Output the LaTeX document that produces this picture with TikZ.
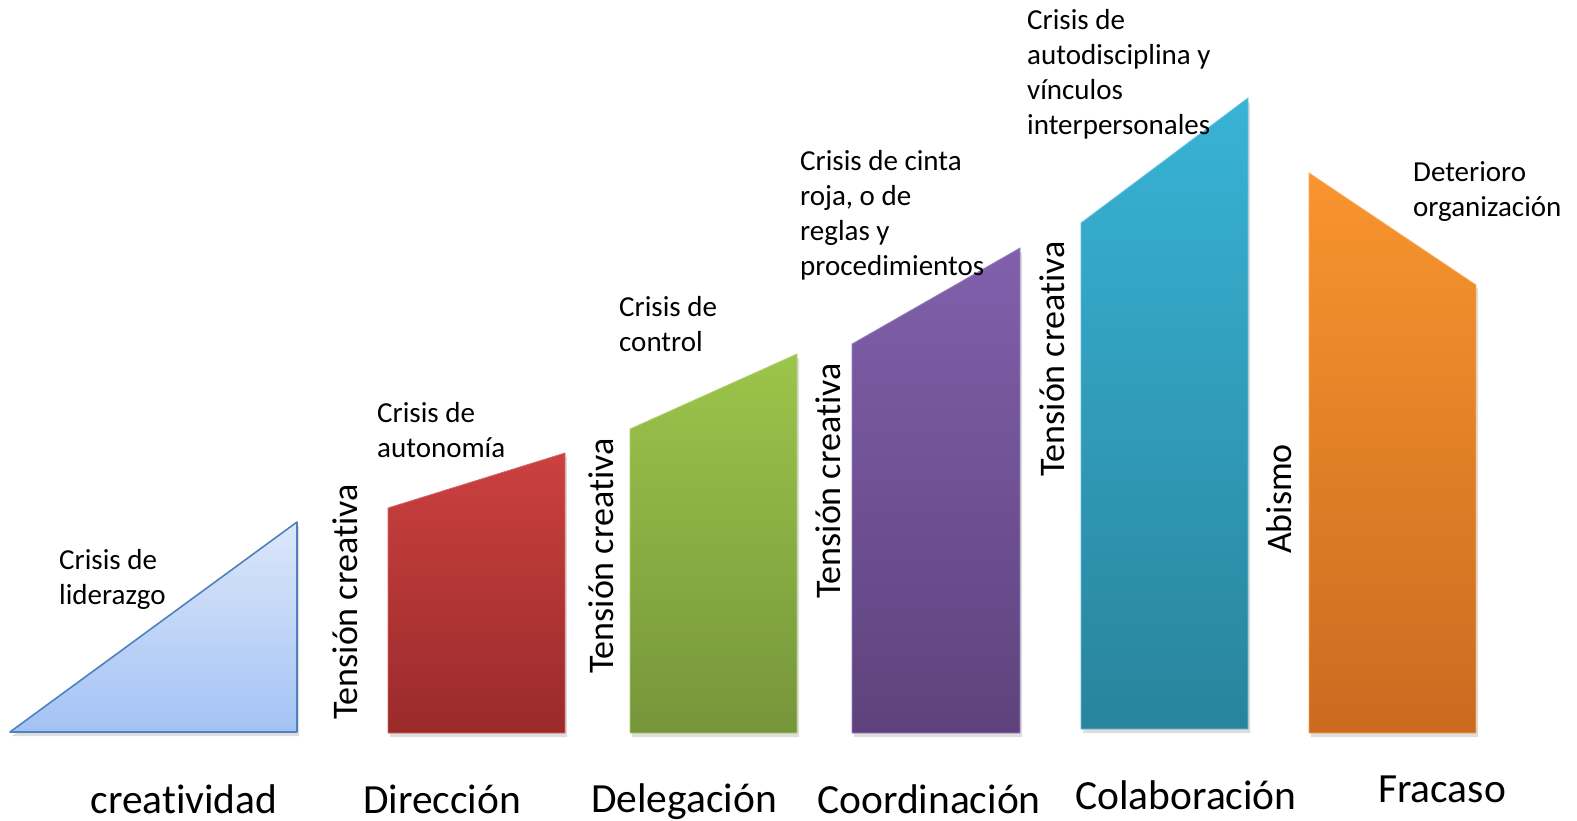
\documentclass[tikz,border=0pt]{standalone}
\usepackage{fontspec}
\setmainfont{Carlito}[Ligatures=NoCommon]
\definecolor{triTop}{HTML}{DCE7FA}
\definecolor{triBot}{HTML}{A3C2F4}
\definecolor{triLine}{HTML}{4F81BD}
\definecolor{redTop}{HTML}{CC4040}
\definecolor{redBot}{HTML}{9A2A2A}
\definecolor{grnTop}{HTML}{9CC54B}
\definecolor{grnBot}{HTML}{76953A}
\definecolor{purTop}{HTML}{8060AC}
\definecolor{purBot}{HTML}{5E427C}
\definecolor{tealTop}{HTML}{38B3D6}
\definecolor{tealBot}{HTML}{29849C}
\definecolor{orgTop}{HTML}{F8952F}
\definecolor{orgBot}{HTML}{CB6A20}
\begin{document}
\begin{tikzpicture}[x=1pt,y=-1pt,
  crisistext/.style={anchor=north west, inner sep=0pt, align=left, font=\fontsize{29}{35}\selectfont},
  vlabel/.style={rotate=90, inner sep=0pt, font=\fontsize{36}{43}\selectfont},
  stagelabel/.style={anchor=base, inner sep=0pt, font=\fontsize{41.5}{50}\selectfont},
  shadowfill/.style={fill=black, fill opacity=0.13},
]
\useasboundingbox (0,0) rectangle (1577,821);
% shadows
\fill[shadowfill] (12,736) -- (299,736) -- (299,526) -- cycle;
\fill[shadowfill] (390,512) -- (567,457) -- (567,737) -- (390,737) -- cycle;
\fill[shadowfill] (632,433) -- (799,358) -- (799,737) -- (632,737) -- cycle;
\fill[shadowfill] (854,348) -- (1022,252) -- (1022,737) -- (854,737) -- cycle;
\fill[shadowfill] (1083,227) -- (1250,102) -- (1250,733) -- (1083,733) -- cycle;
\fill[shadowfill] (1311,177) -- (1478,289) -- (1478,737) -- (1311,737) -- cycle;
% shapes
\shade[top color=triTop, bottom color=triBot] (10,732) -- (297,732) -- (297,522) -- cycle;
\draw[triLine, line width=1.6pt, line join=round] (10,732) -- (297,732) -- (297,522) -- cycle;
\shade[top color=redTop, bottom color=redBot, draw=redTop!80!white, line width=0.8pt] (388,508) -- (565,453) -- (565,733) -- (388,733) -- cycle;
\shade[top color=grnTop, bottom color=grnBot, draw=grnTop!80!white, line width=0.8pt] (630,429) -- (797,354) -- (797,733) -- (630,733) -- cycle;
\shade[top color=purTop, bottom color=purBot, draw=purTop!80!white, line width=0.8pt] (852,344) -- (1020,248) -- (1020,733) -- (852,733) -- cycle;
\shade[top color=tealTop, bottom color=tealBot, draw=tealTop!80!white, line width=0.8pt] (1081,223) -- (1248,98) -- (1248,729) -- (1081,729) -- cycle;
\shade[top color=orgTop, bottom color=orgBot, draw=orgTop!80!white, line width=0.8pt] (1309,173) -- (1476,285) -- (1476,733) -- (1309,733) -- cycle;
% crisis texts
\node[crisistext] (c1) at (59,549) {Crisis de\\liderazgo};
\node[crisistext] (c2) at (377,402) {Crisis de\\autonomía};
\node[crisistext] (c3) at (619,296) {Crisis de\\control};
\node[crisistext] (c4) at (800,150) {Crisis de cinta\\roja, o de\\reglas y\\procedimientos};
\node[crisistext] (c5) at (1027,9) {Crisis de\\autodisciplina y\\vínculos\\interpersonales};
\node[crisistext] (c6) at (1413,161) {Deterioro\\organización};
% vertical texts
\node[vlabel] (t1) at (345,602) {Tensión creativa};
\node[vlabel] (t2) at (601,556) {Tensión creativa};
\node[vlabel] (t3) at (828,481) {Tensión creativa};
\node[vlabel] (t4) at (1052,359) {Tensión creativa};
\node[vlabel] (ab) at (1279,499) {Abismo};
% stage labels
\node[stagelabel] (s1) at (184,813) {creatividad};
\node[stagelabel] (s2) at (442,813) {Dirección};
\node[stagelabel] (s3) at (684,812) {Delegación};
\node[stagelabel] (s4) at (929,813) {Coordinación};
\node[stagelabel] (s5) at (1186,809) {Colaboración};
\node[stagelabel] (s6) at (1442,802) {Fracaso};
\end{tikzpicture}
\end{document}
